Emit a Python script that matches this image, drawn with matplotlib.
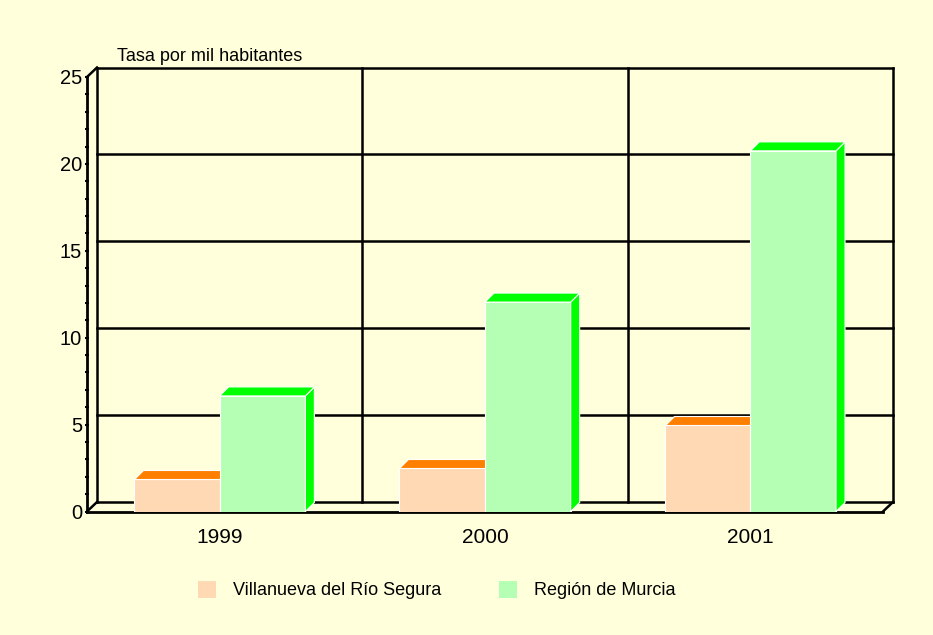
import matplotlib
matplotlib.use("Agg")
import matplotlib.pyplot as plt
from matplotlib import transforms
from matplotlib.patches import Rectangle, Polygon, Patch
from matplotlib.lines import Line2D
import numpy as np

plt.rcParams['font.family'] = ['Liberation Sans', 'DejaVu Sans']

years = ["1999", "2000", "2001"]
villanueva = [1.85, 2.5, 5.0]
murcia = [6.65, 12.05, 20.75]
series_names = ["Villanueva del Río Segura", "Región de Murcia"]
y_ticks = [0, 5, 10, 15, 20, 25]
y_label = "Tasa por mil habitantes"

BG = '#FFFFDC'
V_FRONT, V_TOP = '#FFD8B4', '#FF8000'
M_FRONT, M_TOP = '#B4FFB4', '#00FF00'

W, H = 933, 635
fig = plt.figure(figsize=(W / 100, H / 100), dpi=100, facecolor=BG)
ax = fig.add_axes([87 / W, (H - 511.5) / H, 796 / W, 434.5 / H])
ax.set_xlim(0, 3)
ax.set_ylim(0, 25)
ax.patch.set_visible(False)
for s in ['top', 'right']:
    ax.spines[s].set_visible(False)
ax.spines['left'].set_linewidth(2)
ax.spines['bottom'].set_linewidth(2)

# wall offset (depth)
DX, DY = 10, 9.5
back = transforms.offset_copy(ax.transData, fig=fig, x=DX, y=DY, units='dots')
lw = 1.8
for v in y_ticks:
    ax.plot([0, 3], [v, v], color='black', lw=lw, transform=back, clip_on=False, zorder=1)
for xv in range(0, len(years) + 1):
    ax.plot([xv, xv], [0, 25], color='black', lw=lw, transform=back, clip_on=False, zorder=1)

def disp(x, y):
    return ax.transData.transform((x, y))

ident = transforms.IdentityTransform()
for (x, y) in [(0, 0), (3, 0), (0, 25)]:
    p = disp(x, y)
    fig.add_artist(Line2D([p[0], p[0] + DX], [p[1], p[1] + DY], color='black', lw=lw,
                          transform=ident, zorder=1))

# bars
BW = 0.323
BDX, BDY = 9, 9
for i in range(len(years)):
    c = i + 0.5
    # Villanueva bar (its right side is hidden behind the Murcia bar)
    x0, x1, v = c - BW, c, villanueva[i]
    a, b = disp(x0, v), disp(x1, v)
    top = Polygon([a, b, b + [0, BDY], a + [BDX, BDY]], closed=True, transform=ident,
                  facecolor=V_TOP, edgecolor='white', lw=0.8, zorder=3)
    fig.add_artist(top)
    ax.add_patch(Rectangle((x0, 0), BW, v, facecolor=V_FRONT, edgecolor='white', lw=0.8, zorder=4))
    # Murcia bar
    x0, x1, v = c, c + BW, murcia[i]
    a, b = disp(x0, v), disp(x1, v)
    bb = disp(x1, 0)
    side = Polygon([bb, b, b + [BDX, BDY], bb + [BDX, BDY]], closed=True, transform=ident,
                   facecolor=M_TOP, edgecolor='white', lw=0.8, zorder=5)
    top = Polygon([a, b, b + [BDX, BDY], a + [BDX, BDY]], closed=True, transform=ident,
                  facecolor=M_TOP, edgecolor='white', lw=0.8, zorder=5)
    fig.add_artist(side)
    fig.add_artist(top)
    ax.add_patch(Rectangle((x0, 0), BW, v, facecolor=M_FRONT, edgecolor='white', lw=0.8, zorder=6))

# axes ticks
ax.set_yticks(y_ticks)
ax.set_yticks(np.arange(0, 26, 1), minor=True)
ax.tick_params(axis='y', which='major', length=3, width=1.5, direction='inout', pad=2, labelsize=14.5)
ax.tick_params(axis='y', which='minor', length=3, width=1.5, direction='inout')
ax.set_xticks([i + 0.5 for i in range(len(years))])
ax.set_xticklabels(years)
ax.tick_params(axis='x', which='both', length=0, pad=12, labelsize=15)

fig.text(117 / W, 1 - 61 / H, y_label, fontsize=13, ha='left', va='baseline')

handles = [Patch(facecolor=V_FRONT, edgecolor='none'), Patch(facecolor=M_FRONT, edgecolor='none')]
fig.legend(handles, series_names, loc='center', bbox_to_anchor=(436.5 / W, 1 - 590 / H),
           ncol=2, frameon=False, fontsize=13, handlelength=1.0, handleheight=1.1,
           handletextpad=0.95, columnspacing=3.2)

fig.savefig('out.png', dpi=100, facecolor=BG)
